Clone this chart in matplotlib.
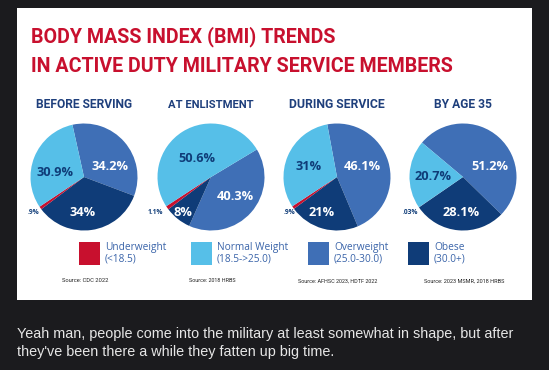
import matplotlib.pyplot as plt
from matplotlib.patches import Rectangle

# data
stages = ['BEFORE SERVING', 'AT ENLISTMENT', 'DURING SERVICE', 'BY AGE 35']
categories = ['Underweight', 'Normal Weight', 'Overweight', 'Obese']
bmi_ranges = ['(<18.5)', '(18.5->25.0)', '(25.0-30.0)', '(30.0+)']
underweight = [0.9, 1.1, 0.9, 0.03]
normal = [30.9, 50.6, 31, 20.7]
overweight = [34.2, 40.3, 46.1, 51.2]
obese = [34, 8, 21, 28.1]
sources = ['Source: CDC 2022', 'Source: 2018 HRBS',
           'Source: AFHSC 2023, HDTF 2022', 'Source: 2023 MSMR, 2018 HRBS']
title_lines = ['BODY MASS INDEX (BMI) TRENDS',
               'IN ACTIVE DUTY MILITARY SERVICE MEMBERS']
comment = ["Yeah man, people come into the military at least somewhat in shape, but after",
           "they've been there a while they fatten up big time."]

# style / layout (pixels)
W, H = 549, 370
RED = '#c8102e'
LIGHT = '#56bfe8'
MID = '#3f6fb6'
NAVY = '#0f3c78'
TITLE_NAVY = '#1e3f7c'
LEG_TXT = '#3a64a9'
colors = {'Underweight': RED, 'Normal Weight': LIGHT, 'Overweight': MID, 'Obese': NAVY}
HEAD = 'Roboto'

pie_cx = [84, 211, 337, 463]
pie_cy = 177
pie_r = 53.5
start_angles = [102.5, 31, 100.5, 140]
# label offsets in px from pie centre (x right, y up): under, normal, over, obese
label_off = [
    [(-51, -36), (-29, 4), (26, 11), (-1, -36)],
    [(-56, -35), (-14, 18), (24, -19), (-28, -35)],
    [(-47, -36), (-28, 11), (25, 11), (-15, -36)],
    [(-53, -36), (-30, 1), (27, 11), (-2, -36)],
]
label_col = ['dark', 'dark', 'white', 'white']
stage_w = [97, 87, 97, 58]
source_w = [46, 47, 80, 80]


def fmt(v):
    s = f'{v:g}'
    if s.startswith('0'):
        s = s[1:]
    return s + '%'


fig = plt.figure(figsize=(W / 100, H / 100), dpi=100, facecolor='#1b1b1e')
renderer = fig.canvas.get_renderer()


def fit(t, width):
    # shrink/grow font so the text spans `width` pixels
    w = t.get_window_extent(renderer).width
    t.set_fontsize(t.get_fontsize() * width / w)


bg = fig.add_axes([0, 0, 1, 1])
bg.set_xlim(0, W)
bg.set_ylim(H, 0)
bg.axis('off')

bg.add_patch(Rectangle((17, 7.5), 515, 292.5, facecolor='white', edgecolor='none'))

tt = []
for i, line in enumerate(title_lines):
    tt.append(bg.text(31, 42 + i * 30, line, color=RED, fontsize=16,
                      fontweight='bold', family=HEAD, ha='left', va='baseline'))
fit(tt[1], 422)
tt[0].set_fontsize(tt[1].get_fontsize())

for i, st in enumerate(stages):
    t = bg.text(pie_cx[i], 104.5, st, color=TITLE_NAVY, fontsize=9.5,
                fontweight='bold', family=HEAD, ha='center', va='center')
    fit(t, stage_w[i])
    s = bg.text(pie_cx[i] + 1, 281, sources[i], color='#222222', fontsize=4.3,
                family=HEAD, ha='center', va='center')
    fit(s, source_w[i])

    ax = fig.add_axes([(pie_cx[i] - pie_r) / W, 1 - (pie_cy + pie_r) / H,
                       2 * pie_r / W, 2 * pie_r / H])
    vals = [overweight[i], obese[i], underweight[i], normal[i]]
    cats = ['Overweight', 'Obese', 'Underweight', 'Normal Weight']
    ax.pie(vals, colors=[colors[c] for c in cats], startangle=start_angles[i],
           counterclock=False, radius=1, wedgeprops=dict(linewidth=0))
    ax.set_xlim(-1, 1)
    ax.set_ylim(-1, 1)
    ax.axis('off')

    series = [underweight[i], normal[i], overweight[i], obese[i]]
    for j, v in enumerate(series):
        dx, dy = label_off[i][j]
        small = j == 0
        ax.text(dx / pie_r, dy / pie_r, fmt(v),
                color=NAVY if label_col[j] == 'dark' else 'white',
                fontsize=4.8 if small else 9.2, fontweight='bold',
                family='Open Sans', ha='center', va='center', clip_on=False)

leg_x = [79, 191, 308, 408]
for k, cat in enumerate(categories):
    bg.add_patch(Rectangle((leg_x[k], 242), 21, 23, facecolor=colors[cat],
                           edgecolor='none'))
    bg.text(leg_x[k] + 26, 247.5, cat, color=LEG_TXT, fontsize=7.3,
            family='Open Sans', ha='left', va='center')
    bg.text(leg_x[k] + 26, 258.7, bmi_ranges[k], color=LEG_TXT, fontsize=7.3,
            family='Open Sans', ha='left', va='center')

ct = []
for i, line in enumerate(comment):
    ct.append(bg.text(17, 334 + i * 18, line, color='#e6e6e6', fontsize=9.3,
                      family='Liberation Sans', ha='left', va='center'))
fit(ct[0], 492)
ct[1].set_fontsize(ct[0].get_fontsize())

fig.savefig('out.png', dpi=100, facecolor=fig.get_facecolor())
